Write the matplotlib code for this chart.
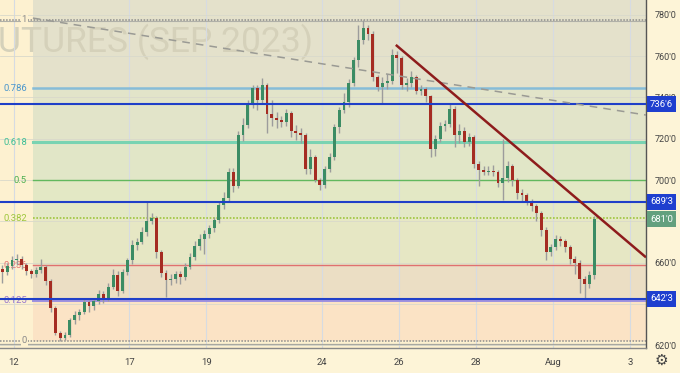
import matplotlib
matplotlib.use('Agg')
import matplotlib.pyplot as plt
import matplotlib.transforms as mtransforms
import numpy as np

# ---------------- data ----------------
day_ticks = [0, 3, 5, 8, 10, 12, 14, 16]
day_labels = ['12', '17', '19', '24', '26', '28', 'Aug', '3']
price_ticks = [620, 660, 700, 720, 740, 760, 780]
price_tick_labels = ["620'0", "660'0", "700'0", "720'0", "740'0", "760'0", "780'0"]
grid_prices = [620, 640, 660, 680, 700, 720, 740, 760, 780]

bars_per_day = 8
first_bar_day = -0.364
first_open = 657.0

closes = [655.5, 658.5, 661, 661.5, 659, 656, 654.5, 656.5, 658, 651,
          638, 626, 623.5, 625, 632, 634.5, 636, 641, 639, 641.5,
          644.5, 643, 648, 654, 646, 655.5, 661, 668.5, 670, 675,
          680, 681.5, 665, 655, 651.5, 652, 654.5, 653, 658, 662.5,
          668, 671.5, 674, 676.5, 680.5, 688, 691.5, 704, 697, 722,
          726.5, 737, 744.5, 739, 746, 732, 730, 729, 728, 732.5,
          724, 723, 722, 705.5, 711, 700, 697.5, 705.5, 711, 725.5,
          734, 738, 747, 758, 768, 773.5, 771, 750, 745, 747,
          748, 760.5, 759, 746, 747, 750, 743, 744, 740.5, 715,
          720, 726, 727, 734.5, 722, 724, 718.5, 721, 708, 705,
          704, 704.5, 704, 698.5, 701, 707, 700, 693.5, 692.5, 690,
          687.5, 684, 676, 665, 667.5, 671.5, 670.5, 667.5, 661.5, 660,
          652, 649.5, 654, 681]
highs = [659, 660, 663, 664, 663, 660, 657, 658, 661.5, 659,
         652, 639, 627, 626.5, 633, 636.5, 637.5, 643, 642, 643,
         646.5, 646, 650, 657, 656, 657, 662, 671, 672, 677,
         690, 684, 682.5, 666, 656.5, 654.5, 656, 656, 660, 664.5,
         670.5, 674, 676, 678, 682, 690, 694, 706, 706, 724,
         730, 739, 746, 746, 749.5, 747, 739, 733, 731, 734.5,
         733.5, 726.5, 725, 723, 715, 712, 701, 707, 713, 727,
         735.5, 742, 749, 759.5, 775, 777.5, 775, 772, 751, 750,
         751.5, 763.5, 762.5, 760, 749.5, 753, 751, 746, 745, 741,
         722, 728, 729, 737, 736, 727, 725.5, 723, 722, 709,
         707, 707, 707.5, 705, 720, 709, 708, 701, 695.5, 693.5,
         691, 688.5, 685, 677, 669, 673.5, 673, 671.5, 668.5, 663,
         661, 653.5, 656, 682.5]
lows = [650, 654, 657, 659, 657, 654, 652.5, 653, 655, 649,
        636, 625, 622, 622.5, 624, 630, 632, 635, 636, 637,
        640, 640.5, 641.5, 647, 644, 645, 654, 659.5, 666, 669,
        673, 678.5, 662, 653, 643.5, 649, 650, 649.5, 651.5, 657,
        661, 666, 664, 672, 675, 679, 686, 690, 694, 696,
        719, 725, 735, 734, 737, 723, 726, 725, 725.5, 726,
        721, 719.5, 718, 703, 703, 699, 695, 696, 704, 709.5,
        723, 732.5, 735.5, 745.5, 755, 766, 768, 748, 743, 737,
        744, 746.5, 752, 744, 743, 745, 741.5, 741, 738, 711,
        711.5, 718.5, 724, 725.5, 716, 718, 716, 716.5, 706, 697,
        702.5, 702.5, 702, 696.5, 690.5, 699, 697, 691, 690, 688,
        685, 680, 673, 661, 663, 666, 668, 665, 659.5, 654.5,
        645, 643, 647.5, 652]

fib_low, fib_high = 622.0, 777.75
fib_start_day = 0.49
fib_ratios = [0, 0.125, 0.236, 0.382, 0.5, 0.618, 0.786, 1]
fib_names = ['0', '0.125', '0.236', '0.382', '0.5', '0.618', '0.786', '1']
fib_line_colors = ['#8c8c8c', '#9d90e0', '#e07070', '#9ec63c', '#62b85e', '#79d3b2', '#86bcd8', '#8c8c8c']
fib_text_colors = ['#8a8a8a', '#9575cd', '#e57373', '#9ec63c', '#4caf50', '#3fbf96', '#4a96cc', '#8a8a8a']
band_colors = ['#fbe3c5', '#ebdec4', '#e6e7c4', '#e3e8c5', '#e1e6c7', '#e2e4c9', '#e4e1cb']

hline_prices = [736.75, 689.375, 642.375]
hline_labels = ["736'6", "689'3", "642'3"]
last_price = 681.0
last_label = "681'0"

trend_days = [9.92, 16.42]
trend_prices = [765.5, 662.5]
dash_days = [0.49, 16.42]
dash_prices = [778.5, 731.5]

watermark = 'UTURES (SEP 2023)'

# ---------------- figure ----------------
W, H = 680, 373
UI = ['Roboto', 'DejaVu Sans']
fig = plt.figure(figsize=(W / 100, H / 100), dpi=100)
fig.patch.set_facecolor('#fdf4d7')
ax = fig.add_axes([0, 25 / H, 646 / W, 348 / H])
ax.set_facecolor('#fdf1d0')
x_min, x_max = -0.364, 16.42
y_min, y_max = 618.55, 787.27
ax.set_xlim(x_min, x_max)
ax.set_ylim(y_min, y_max)
px_day = (x_max - x_min) / 646.0

# fib bands
levels = [fib_low + r * (fib_high - fib_low) for r in fib_ratios]
bx = [fib_start_day, x_max]
for i in range(len(levels) - 1):
    ax.fill_between(bx, levels[i], levels[i + 1], color=band_colors[i], lw=0, zorder=0.5)
ax.fill_between(bx, levels[-1], y_max, color=band_colors[-1], lw=0, zorder=0.5)

# watermark
wm = ax.text(x_min - 2 * px_day, 767.0, watermark,
             family=['Liberation Sans Narrow', 'Roboto', 'DejaVu Sans'],
             fontsize=30, color='#d5d1ba', ha='left', va='center', zorder=0.8)
fig.canvas.draw()
bb = wm.get_window_extent(renderer=fig.canvas.get_renderer())
wm.set_fontsize(30 * 314 / bb.width)

# grid
for d in day_ticks:
    ax.axvline(d, color='#d6dbe2', lw=0.8, zorder=1)
for p in grid_prices:
    ax.axhline(p, color='#d9d9cb', lw=0.6, zorder=1)

# fib level lines + labels
for r, lv, nm, lc, tc in zip(fib_ratios, levels, fib_names, fib_line_colors, fib_text_colors):
    if nm in ('0', '1'):
        ax.axhline(lv, color=lc, lw=1.1, ls=(0, (1, 1)), zorder=2)
    elif nm == '0.382':
        ax.plot(bx, [lv, lv], color=lc, lw=1.2, ls=(0, (1, 1)), zorder=2)
    else:
        lw = {'0.125': 1.4, '0.236': 1.0, '0.5': 1.0, '0.618': 2.2, '0.786': 1.8}[nm]
        ax.plot(bx, [lv, lv], color=lc, lw=lw, zorder=2)
    ax.text(x_min + 27 * px_day, lv, nm, color=tc, fontsize=6.8, ha='right', va='center',
            zorder=2.2, family=UI,
            bbox=dict(boxstyle='square,pad=0.1', fc='#fdf1d0', ec='none') if nm in ('0', '1') else None)
ax.axhline(levels[-1] - 0.5, color='#b0b0a8', lw=0.8, zorder=1.9)
ax.axhline(620.4, color='#a8a8a0', lw=0.9, zorder=1.9)

# candles
opens = [first_open] + closes[:-1]
n = len(closes)
xs = [first_bar_day + (i + 0.5) / bars_per_day for i in range(n)]
ax.vlines(xs, lows, highs, color='#9c9c9c', lw=1.0, zorder=2.9)
up_col, dn_col = '#3b8c64', '#a52c22'
for x, o, c in zip(xs, opens, closes):
    col = up_col if c >= o else dn_col
    h = c - o
    if abs(h) < 0.6:
        h = 0.6 if h >= 0 else -0.6
    ax.bar(x, h, bottom=o, width=0.075, color=col, lw=0, zorder=3)

# horizontal blue lines
for p in hline_prices:
    ax.axhline(p, color='#1f3fc8', lw=1.5, zorder=4)

# trend lines
ax.plot(dash_days, dash_prices, color='#9a9a94', lw=1.1, ls=(0, (5, 4)), zorder=4)
ax.plot(trend_days, trend_prices, color='#8e1c1c', lw=1.8, zorder=5, solid_capstyle='butt')

# axes styling
for s in ('top', 'left'):
    ax.spines[s].set_visible(False)
ax.spines['right'].set_color('#555555')
ax.spines['right'].set_linewidth(1.0)
ax.spines['bottom'].set_color('#888888')
ax.spines['bottom'].set_linewidth(1.0)
ax.set_xticks(day_ticks)
ax.set_xticklabels(day_labels, fontsize=6.8, color='#444444', family=UI)
ax.tick_params(axis='x', length=0, pad=7)
ax.yaxis.tick_right()
ax.set_yticks(price_ticks)
ax.set_yticklabels(price_tick_labels, fontsize=6.5, color='#444444', family=UI)
ax.tick_params(axis='y', length=0, pad=6)

# price label boxes
tr = mtransforms.blended_transform_factory(fig.transFigure, ax.transData)
for p, lab in zip(hline_prices, hline_labels):
    ax.text(661.5 / W, p, lab, transform=tr, ha='center', va='center', fontsize=6.8,
            color='white', zorder=10, family=UI,
            bbox=dict(boxstyle='square,pad=0.35', fc='#1f3fcf', ec='none'))
ax.text(661.5 / W, last_price, last_label, transform=tr, ha='center', va='center', fontsize=6.8,
        color='white', zorder=10, family=UI,
        bbox=dict(boxstyle='square,pad=0.35', fc='#63a07e', ec='none'))

# settings icon
fig.text(661 / W, 1 - 360 / H, '\u2699', fontsize=11, color='#444444', ha='center', va='center',
         family='DejaVu Sans')

fig.savefig('out.png', dpi=100, facecolor=fig.get_facecolor())
